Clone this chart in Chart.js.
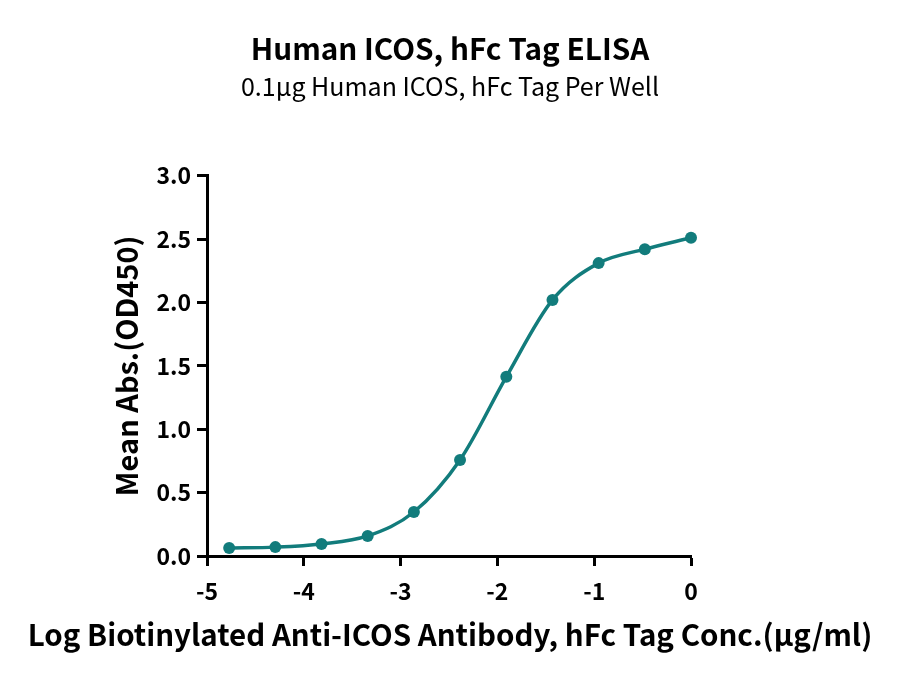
<!DOCTYPE html>
<html>
<head>
<meta charset="utf-8">
<script src="https://cdn.jsdelivr.net/npm/chart.js@4.4.0/dist/chart.umd.min.js"></script>
<style>
html,body{margin:0;padding:0;background:#fff;}
#wrap{width:900px;height:682px;position:relative;}
</style>
</head>
<body>
<div id="wrap"><canvas id="c" width="900" height="682"></canvas></div>
<script>
const logConc = [-4.771, -4.294, -3.817, -3.340, -2.863, -2.386, -1.908, -1.431, -0.954, -0.477, 0.0];
const meanAbs = [0.063, 0.070, 0.095, 0.158, 0.347, 0.758, 1.413, 2.020, 2.310, 2.420, 2.510];
const xTicks = [-5, -4, -3, -2, -1, 0];
const yTicks = [0.0, 0.5, 1.0, 1.5, 2.0, 2.5, 3.0];
const xTitle = 'Log Biotinylated Anti-ICOS Antibody, hFc Tag Conc.(\u03bcg/ml)';
const yTitle = 'Mean Abs.(OD450)';

const FONT = '"Noto Sans CJK SC", "Noto Sans", sans-serif';
const TEAL = '#127c7c';

const axisTitles = {
  id: 'axisTitles',
  afterDraw(chart) {
    const ctx = chart.ctx;
    const a = chart.chartArea;
    ctx.save();
    ctx.fillStyle = '#000';
    ctx.textAlign = 'center';
    ctx.textBaseline = 'middle';
    ctx.font = 'bold 29.5px ' + FONT;
    ctx.fillText(xTitle, chart.width / 2, a.bottom + 79);
    ctx.translate(a.left - 80, (a.top + a.bottom) / 2);
    ctx.rotate(-Math.PI / 2);
    ctx.font = 'bold 29px ' + FONT;
    ctx.fillText(yTitle, 0, 0);
    ctx.restore();
  }
};

new Chart(document.getElementById('c'), {
  type: 'line',
  data: {
    datasets: [{
      data: logConc.map((x, i) => ({x: x, y: meanAbs[i]})),
      borderColor: TEAL,
      backgroundColor: TEAL,
      borderWidth: 3.5,
      pointRadius: 6,
      pointHoverRadius: 6,
      pointBorderWidth: 0,
      cubicInterpolationMode: 'monotone',
      clip: false,
      yAxisID: 'y'
    }]
  },
  options: {
    responsive: false,
    animation: false,
    layout: {padding: 0},
    plugins: {
      legend: {display: false},
      tooltip: {enabled: false},
      title: {
        display: true,
        text: 'Human ICOS, hFc Tag ELISA',
        color: '#000',
        font: {family: FONT, size: 29.7, weight: 'bold', lineHeight: 1.2},
        padding: {top: 31, bottom: 0}
      },
      subtitle: {
        display: true,
        text: '0.1\u03bcg Human ICOS, hFc Tag Per Well',
        color: '#000',
        font: {family: FONT, size: 25, weight: 'normal', lineHeight: 1.2},
        padding: {top: 5, bottom: 74}
      }
    },
    scales: {
      x: {
        type: 'linear',
        min: -5, max: 0,
        afterBuildTicks: s => { s.ticks = xTicks.map(v => ({value: v})); },
        afterFit: s => { s.height = 126; },
        border: {display: true, color: '#000', width: 3},
        grid: {display: true, drawOnChartArea: false, drawTicks: true, tickLength: 10, tickWidth: 3, tickColor: '#000'},
        ticks: {color: '#000', font: {family: FONT, size: 23, weight: 'bold'}, padding: 11, callback: v => String(v)}
      },
      y: {
        type: 'linear',
        min: 0, max: 3,
        afterBuildTicks: s => { s.ticks = yTicks.map(v => ({value: v})); },
        afterFit: s => { s.width = 207; },
        border: {display: true, color: '#000', width: 3},
        grid: {display: true, drawOnChartArea: false, drawTicks: true, tickLength: 10, tickWidth: 3, tickColor: '#000'},
        ticks: {color: '#000', font: {family: FONT, size: 23, weight: 'bold'}, padding: 6, callback: v => Number(v).toFixed(1)}
      },
      yRight: {
        type: 'linear',
        position: 'right',
        display: true,
        afterFit: s => { s.width = 209; },
        border: {display: false},
        grid: {display: false},
        ticks: {display: false}
      }
    }
  },
  plugins: [axisTitles]
});
</script>
</body>
</html>
